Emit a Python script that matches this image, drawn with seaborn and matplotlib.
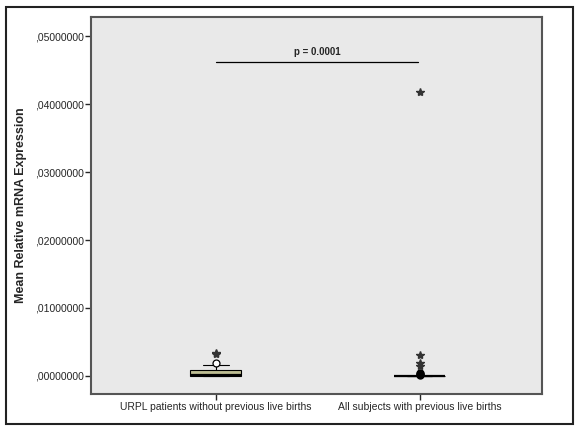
import matplotlib
matplotlib.use("Agg")
import matplotlib.pyplot as plt
import matplotlib.patches as mpatches
import pandas as pd
import seaborn as sns

# groupes et valeurs
groups = ["URPL patients without previous live births", "All subjects with previous live births"]
urpl_values = [0.0, 0.00001, 0.00003, 0.00005, 0.00008, 0.0001, 0.00014, 0.0004, 0.0008, 0.0009, 0.0012, 0.00166]
live_values = [0.0, 0.0, 0.00001, 0.00001, 0.00002, 0.00003, 0.00004]

# valeurs aberrantes (cercle = outlier, étoile = extrême)
urpl_circles = [0.0019]
urpl_stars = [0.0032, 0.0034]
live_circles = [0.0002, 0.0003, 0.0004]
live_stars = [0.0015, 0.0019, 0.0031, 0.0418]

p_text = "p = 0.0001"
p_level = 0.0462
y_ticks = [0.0, 0.01, 0.02, 0.03, 0.04, 0.05]

df = pd.DataFrame({
    "group": [groups[0]] * len(urpl_values) + [groups[1]] * len(live_values),
    "value": urpl_values + live_values,
})

sns.set_style("white")
plt.rcParams["font.family"] = ["Liberation Sans", "DejaVu Sans"]

fig = plt.figure(figsize=(5.78, 4.33), dpi=100)
ax = fig.add_axes([0.1574, 0.0901, 0.7803, 0.8706])
ax.set_facecolor("#e9e9e9")

sns.boxplot(data=df, x="group", y="value", order=groups, ax=ax, width=0.25,
            whis=(0, 100), showfliers=False, color="#bdbd93", saturation=1,
            linecolor="black", linewidth=0.8, medianprops={"linewidth": 1.6})

# caps plus courts à la façon SPSS
for line in ax.lines:
    xs = line.get_xdata()
    if len(xs) == 2 and xs[0] != xs[1]:
        c = (xs[0] + xs[1]) / 2
        half = abs(xs[1] - xs[0]) / 2
        ys = line.get_ydata()
        if ys[0] == ys[1] and half < 0.1:
            line.set_xdata([c - 0.0625, c + 0.0625])

ax.plot([0] * len(urpl_circles), urpl_circles, "o", mfc="white", mec="black", ms=5, mew=0.9)
ax.plot([1] * len(live_circles), live_circles, "o", mfc="black", mec="black", ms=5)
ax.plot([0] * len(urpl_stars), urpl_stars, "*", color="#333333", ms=6)
ax.plot([1] * len(live_stars), live_stars, "*", color="#333333", ms=6)

# barre de significativité
ax.plot([0, 0.99], [p_level, p_level], color="black", lw=0.9)
ax.text(0.5, p_level + 0.0007, p_text, ha="center", va="bottom", fontsize=7, fontweight="bold")

ax.set_xlim(-0.613, 1.600)
ax.set_ylim(-0.00265, 0.0528)
ax.set_yticks(y_ticks)
ax.set_yticklabels([f"{v:.8f}".replace("0.", ",", 1) for v in y_ticks], fontsize=7.5)
ax.tick_params(axis="x", labelsize=7.5, length=4, width=1, direction="out", bottom=True, pad=2)
ax.tick_params(axis="y", length=4, width=1, direction="out", left=True, pad=1)
ax.set_xlabel("")
ax.set_ylabel("Mean Relative mRNA Expression", fontsize=9, fontweight="bold", labelpad=6)
for s in ax.spines.values():
    s.set_color("#555555")
    s.set_linewidth(1.5)

# cadre extérieur
fig.patches.append(mpatches.Rectangle((6 / 578, 1 - 424 / 433), 567 / 578, 417 / 433,
                                      transform=fig.transFigure, fill=False,
                                      edgecolor="#222222", linewidth=1.5))

fig.savefig("out.png", dpi=100)
